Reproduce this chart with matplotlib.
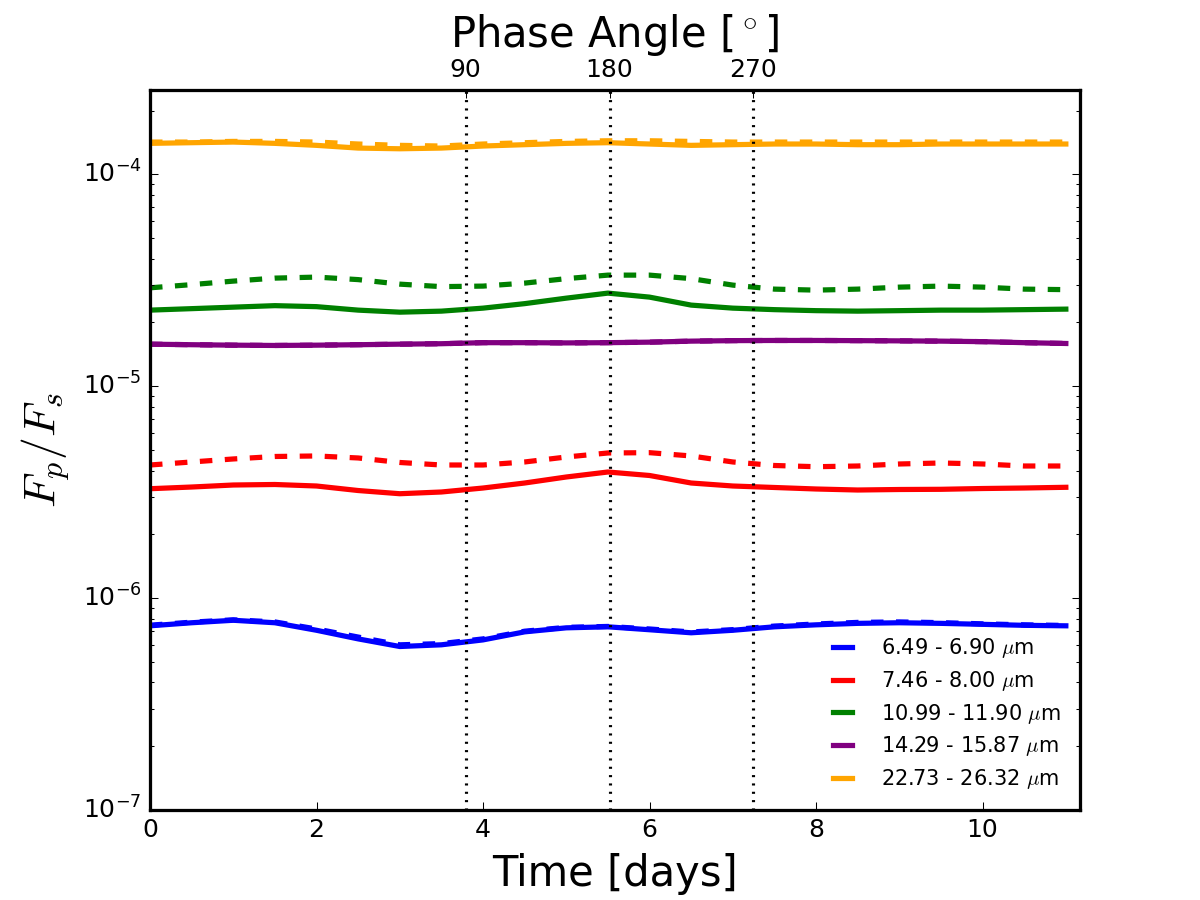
import numpy as np
import matplotlib
matplotlib.use('Agg')
import matplotlib.pyplot as plt

plt.style.use('classic')
plt.rcParams['figure.facecolor'] = 'white'
plt.rcParams['savefig.facecolor'] = 'white'
plt.rcParams['axes.linewidth'] = 1.5

# time grid (days)
time = [0.0, 0.5, 1.0, 1.5, 2.0, 2.5, 3.0, 3.5, 4.0, 4.5, 5.0, 5.5,
        6.0, 6.5, 7.0, 7.5, 8.0, 8.5, 9.0, 9.5, 10.0, 10.5, 11.0]

# solid and dashed curves for each band
blue_solid = [7.40, 7.65, 7.86, 7.65, 7.05, 6.42, 5.91, 6.02, 6.35, 6.93, 7.24, 7.32,
              7.09, 6.86, 7.05, 7.32, 7.48, 7.60, 7.65, 7.60, 7.52, 7.44, 7.40]
blue_dash = [7.45, 7.70, 7.90, 7.72, 7.15, 6.55, 6.02, 6.10, 6.42, 6.98, 7.28, 7.35,
             7.15, 6.92, 7.10, 7.38, 7.55, 7.68, 7.72, 7.66, 7.56, 7.48, 7.43]
red_solid = [3.283, 3.344, 3.418, 3.437, 3.381, 3.219, 3.109, 3.168, 3.308, 3.493, 3.729, 3.937,
             3.790, 3.493, 3.381, 3.327, 3.273, 3.237, 3.255, 3.262, 3.290, 3.308, 3.334]
red_dash = [4.248, 4.390, 4.536, 4.660, 4.686, 4.585, 4.366, 4.248, 4.248, 4.390, 4.634, 4.841,
            4.857, 4.686, 4.390, 4.225, 4.170, 4.202, 4.295, 4.342, 4.295, 4.202, 4.202]
green_solid = [2.286, 2.323, 2.361, 2.400, 2.374, 2.286, 2.236, 2.261, 2.336, 2.453, 2.604, 2.750,
               2.633, 2.414, 2.336, 2.298, 2.273, 2.261, 2.273, 2.286, 2.286, 2.298, 2.311]
green_dash = [2.913, 3.016, 3.133, 3.237, 3.273, 3.185, 3.032, 2.951, 2.968, 3.066, 3.219, 3.344,
              3.344, 3.219, 3.000, 2.872, 2.841, 2.872, 2.935, 2.968, 2.935, 2.872, 2.856]
purple_solid = [1.579, 1.570, 1.562, 1.557, 1.562, 1.570, 1.579, 1.587, 1.605, 1.605, 1.601, 1.605,
                1.614, 1.632, 1.641, 1.644, 1.644, 1.641, 1.637, 1.632, 1.623, 1.605, 1.591]
purple_dash = purple_solid
orange_solid = [1.40, 1.41, 1.42, 1.40, 1.37, 1.33, 1.32, 1.33, 1.36, 1.38, 1.40, 1.41,
                1.39, 1.37, 1.38, 1.39, 1.39, 1.38, 1.38, 1.39, 1.39, 1.39, 1.39]
orange_dash = [1.42, 1.42, 1.43, 1.43, 1.42, 1.39, 1.37, 1.36, 1.39, 1.41, 1.43, 1.44,
               1.44, 1.43, 1.42, 1.42, 1.42, 1.42, 1.42, 1.42, 1.42, 1.42, 1.42]

labels = [r'6.49 - 6.90 $\mu$m', r'7.46 - 8.00 $\mu$m', r'10.99 - 11.90 $\mu$m',
          r'14.29 - 15.87 $\mu$m', r'22.73 - 26.32 $\mu$m']
colors = ['blue', 'red', 'green', 'purple', 'orange']
scales = [1e-7, 1e-6, 1e-5, 1e-5, 1e-4]
solids = [blue_solid, red_solid, green_solid, purple_solid, orange_solid]
dashes = [blue_dash, red_dash, green_dash, purple_dash, orange_dash]

phase_days = [3.79, 5.52, 7.24]
phase_labels = ['90', '180', '270']

fig = plt.figure(figsize=(8, 6), dpi=150)
ax = fig.add_subplot(111)

t = np.array(time)
for sol, das, c, s, lab in zip(solids, dashes, colors, scales, labels):
    ax.plot(t, np.array(sol) * s, color=c, lw=2.5, label=lab)
    ax.plot(t, np.array(das) * s, color=c, lw=2.5, linestyle='--')

for p in phase_days:
    ax.axvline(p, color='black', linestyle=':', lw=1.5)

ax.set_yscale('log')
ax.set_ylim(1e-7, 2.5e-4)
ax.set_xlim(0, 11.17)
ax.xaxis.set_ticks_position('bottom')
ax.set_xticks([0, 2, 4, 6, 8, 10])
ax.set_xlabel('Time [days]', fontsize=20)
ax.set_ylabel(r'$F_p/F_s$', fontsize=22)
ax.legend(loc='lower right', frameon=False, fontsize=10,
          handlelength=1.5, handletextpad=1.1, labelspacing=0.42)

ax2 = ax.twiny()
ax2.set_xlim(ax.get_xlim())
ax2.set_xticks(phase_days)
ax2.set_xticklabels(phase_labels)
ax2.set_xlabel(r'Phase Angle [$^\circ$]', fontsize=20)

fig.savefig('out.png', dpi=150)
